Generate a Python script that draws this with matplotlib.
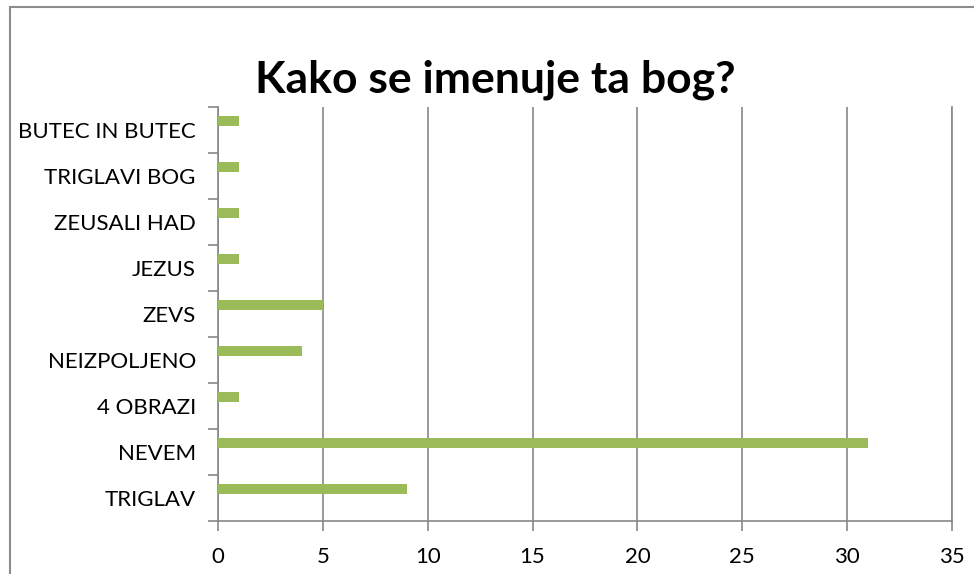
import numpy as np
import matplotlib
matplotlib.use("Agg")
import matplotlib.pyplot as plt
from matplotlib.patches import Rectangle

# podatki (od spodaj navzgor)
kategorije = ["TRIGLAV", "NEVEM", "4 OBRAZI", "NEIZPOLJENO", "ZEVS",
              "JEZUS", "ZEUSALI HAD", "TRIGLAVI BOG", "BUTEC IN BUTEC"]
odgovori = [9, 31, 1, 4, 5, 1, 1, 1, 1]
x_ticks = [0, 5, 10, 15, 20, 25, 30, 35]

plt.rcParams['font.family'] = ['Lato', 'DejaVu Sans']

W, H = 974, 574
fig = plt.figure(figsize=(W / 100, H / 100), dpi=100)

# zunanji okvir (desni in spodnji rob sta izven slike)
fig.patches.append(Rectangle((10 / W, -0.2), 1.2, 1.2 - 7 / H, transform=fig.transFigure,
                             fill=False, edgecolor="#8c8c8c", linewidth=1.5))

ax = fig.add_axes([218 / W, 1 - 521 / H, (952 - 218) / W, (521 - 107) / H])
y = np.arange(len(kategorije))
# stolpci so v Excelu malce zamaknjeni navzgor
ax.barh(y + 0.2, odgovori, height=0.22, color="#9bbb59", zorder=3)

ax.set_xlim(0, 35)
ax.set_ylim(-0.5, len(kategorije) - 0.5)
ax.set_xticks(x_ticks)
ax.set_yticks(y)
ax.set_yticklabels(kategorije)
ax.set_yticks(np.arange(-0.5, len(kategorije)), minor=True)
ax.tick_params(axis="y", which="major", length=0, pad=16, labelsize=16)
ax.tick_params(axis="y", which="minor", length=7, width=1.2, color="#878787")
ax.tick_params(axis="x", length=7, width=1.2, color="#878787", pad=12, labelsize=16)

ax.grid(axis="x", color="#878787", linewidth=1.2, zorder=0)
ax.spines["top"].set_visible(False)
for s in ["left", "bottom", "right"]:
    ax.spines[s].set_color("#878787")
    ax.spines[s].set_linewidth(1.2)

fig.text(495 / W, 1 - 93 / H, "Kako se imenuje ta bog?", ha="center", va="baseline",
         fontsize=32, fontweight="bold")

fig.savefig("out.png", dpi=100)
